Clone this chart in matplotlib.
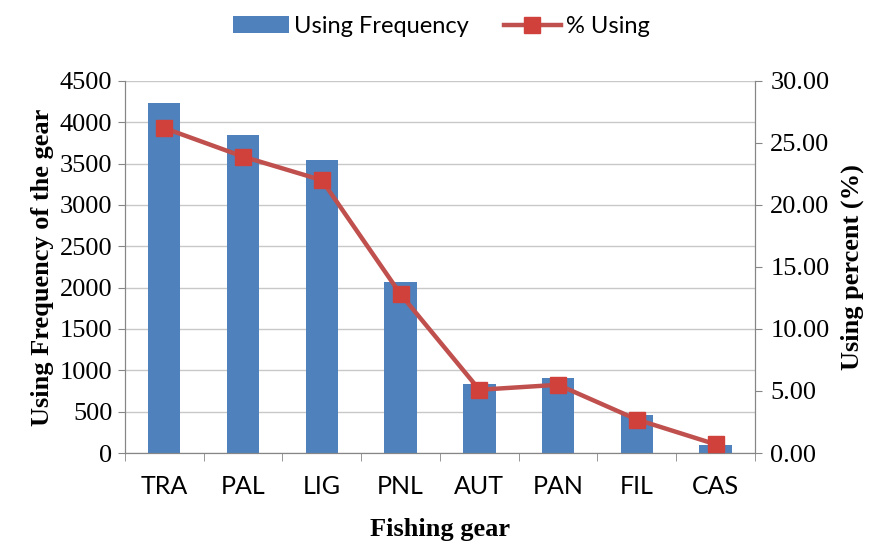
import matplotlib
matplotlib.use("Agg")
import matplotlib.pyplot as plt
import numpy as np

gears = ["TRA", "PAL", "LIG", "PNL", "AUT", "PAN", "FIL", "CAS"]
frequency = [4230, 3850, 3550, 2065, 835, 905, 460, 100]
percent = [26.2, 23.9, 22.0, 12.8, 5.1, 5.5, 2.7, 0.7]

blue = "#4F81BD"
red = "#C0504D"
grey = "#868686"

fig = plt.figure(figsize=(8.82, 5.42), dpi=100)
ax = fig.add_axes([0.1417, 0.1642, 0.7143, 0.6864])
x = np.arange(len(gears))

bars = ax.bar(x, frequency, width=0.41, color=blue, zorder=2, label="Using Frequency")
ax.set_xlim(-0.5, len(gears) - 0.5)
ax.set_ylim(0, 4500)
ax.set_yticks(range(0, 4501, 500))
ax.yaxis.grid(True, color="#c8c8c8", linewidth=1, zorder=0)
ax.set_axisbelow(True)

ax2 = ax.twinx()
line, = ax2.plot(x, percent, color=red, linewidth=3.2, marker="s", markersize=11,
                 markerfacecolor="#d0413c", markeredgecolor="#d0413c", zorder=3, label="% Using")
ax2.set_ylim(0, 30)
ax2.set_yticks(np.arange(0, 30.01, 5))
ax2.set_yticklabels([f"{v:.2f}" for v in np.arange(0, 30.01, 5)])

for a in (ax, ax2):
    a.spines["top"].set_visible(False)
    for s in ("left", "right", "bottom"):
        a.spines[s].set_color(grey)
    a.tick_params(axis="y", colors=grey, length=5, labelcolor="black",
                  labelsize=19)
for lbl in ax.get_yticklabels() + ax2.get_yticklabels():
    lbl.set_fontfamily("Liberation Serif")
ax.tick_params(axis="y", pad=4)
ax2.tick_params(axis="y", pad=6)

ax.set_xticks(x)
ax.set_xticklabels(gears, fontsize=18, family="Lato")
ax.tick_params(axis="x", length=0, pad=16)
ax.set_xticks(np.arange(-0.5, len(gears), 1), minor=True)
ax.tick_params(axis="x", which="minor", length=6, color=grey)

ax.set_xlabel("Fishing gear", fontsize=19, fontweight="bold", family="Liberation Serif", labelpad=14)
ax.set_ylabel("Using Frequency of the gear", fontsize=19, fontweight="bold", family="Liberation Serif", labelpad=4)
ax2.set_ylabel("Using percent (%)", fontsize=19, fontweight="bold", family="Liberation Serif", labelpad=8)

fig.legend([bars, line], ["Using Frequency", "% Using"], loc="upper center",
           bbox_to_anchor=(0.5, 1.01), ncol=2, frameon=False,
           prop={"family": "Lato", "size": 17}, handlelength=2.4, handletextpad=0.2, columnspacing=1.5)

fig.savefig("out.png", dpi=100)
